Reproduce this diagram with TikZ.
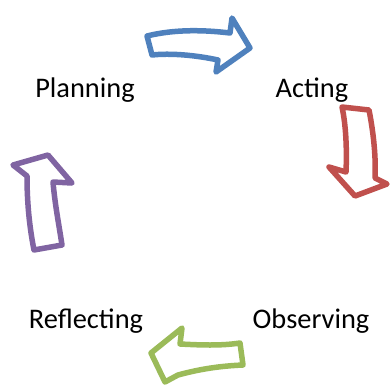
\documentclass[tikz,border=0pt]{standalone}
\usepackage{fontspec}
\setmainfont{Carlito}
\definecolor{ablue}{HTML}{4F81BD}
\definecolor{ared}{HTML}{C0504D}
\definecolor{agreen}{HTML}{9BBB59}
\definecolor{apurple}{HTML}{8064A2}
\begin{document}
\begin{tikzpicture}[x=1bp,y=-1bp,
  lbl/.style={font=\fontsize{28.5}{34}\selectfont, anchor=base, inner sep=0pt},
  arrowshape/.style={line width=5.5bp, line join=round, fill=white}]
\useasboundingbox (0,0) rectangle (390,385);
\node[lbl] (planning) at (85,97) {Planning};
\node[lbl] (acting) at (312,97) {Acting};
\node[lbl] (observing) at (311,328) {Observing};
\node[lbl] (reflecting) at (86,328) {Reflecting};
% blue arrow
\draw[arrowshape, draw=ablue] (147,36) .. controls (175,29) and (205,30) .. (230,33) -- (232,18) -- (250,48) -- (216,72) -- (218,60) .. controls (195,55) and (170,53) .. (152,55) -- cycle;
% red arrow
\draw[arrowshape, draw=ared] (342,107) -- (369,110) .. controls (374,135) and (376,160) .. (375,178) -- (387,184) -- (355,196) -- (329,167) -- (346,172) .. controls (347,150) and (346,125) .. (342,107) -- cycle;
% green arrow
\draw[arrowshape, draw=agreen] (240,343) .. controls (220,346) and (200,345) .. (180,344) -- (182,328) -- (151,353) -- (165,382) -- (178,375) .. controls (200,369) and (220,366) .. (243,365) -- cycle;
% purple arrow
\draw[arrowshape, draw=apurple] (34,250) .. controls (29,225) and (27,200) .. (27,176) -- (13,165) -- (48,155) -- (72,183) -- (53,182) .. controls (55,205) and (59,225) .. (62,245) -- cycle;
\end{tikzpicture}
\end{document}
